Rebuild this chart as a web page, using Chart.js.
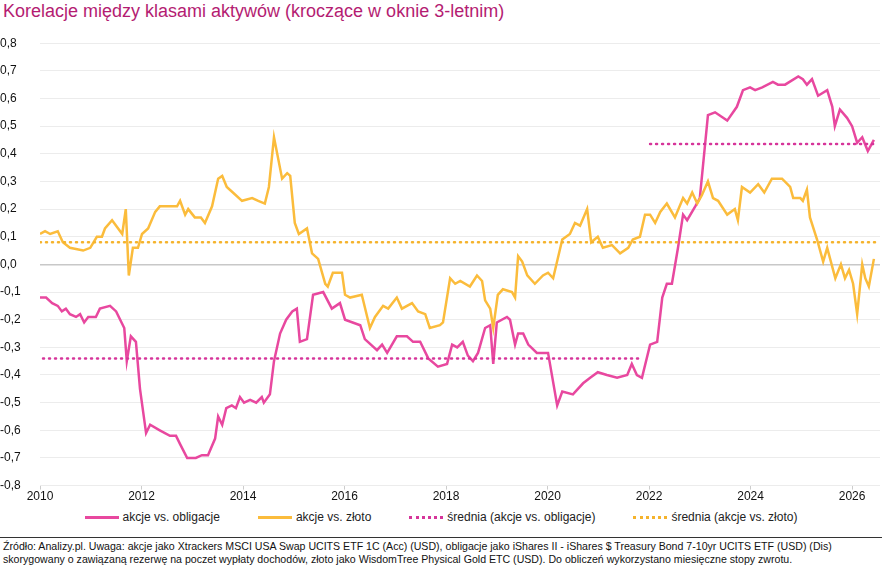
<!DOCTYPE html>
<html>
<head>
<meta charset="utf-8">
<script src="https://cdn.jsdelivr.net/npm/chart.js@4"></script>
<style>
  body { margin: 0; width: 882px; height: 568px; background: #fff; font-family: "Liberation Sans", Arial, sans-serif; position: relative; overflow: hidden; }
  #title { position: absolute; left: 3px; top: 1px; font-size: 18px; color: #b41c72; }
  #wrap { position: absolute; left: 0; top: 26px; width: 882px; height: 478px; }
  #legend { position: absolute; top: 510px; left: 0; width: 882px; display: flex; justify-content: center; gap: 38px; font-size: 12px; color: #222; }
  #legend span.item { display: flex; align-items: center; gap: 4px; }
  .sw { display: inline-block; width: 34px; height: 0; }
  #note { position: absolute; left: 0; top: 537px; width: 882px; border-top: 1px solid #333; padding: 2px 3px 0; font-size: 10.6px; line-height: 13px; color: #111; box-sizing: border-box; }
</style>
</head>
<body>
<div id="title">Korelacje między klasami aktywów (kroczące w oknie 3-letnim)</div>
<div id="wrap"><canvas id="c"></canvas></div>
<div id="legend">
  <span class="item"><span class="sw" style="border-top:3px solid #e8489f"></span>akcje vs. obligacje</span>
  <span class="item"><span class="sw" style="border-top:3px solid #fbbc3c"></span>akcje vs. złoto</span>
  <span class="item"><span class="sw" style="border-top:3px dotted #d6359a"></span>średnia (akcje vs. obligacje)</span>
  <span class="item"><span class="sw" style="border-top:3px dotted #f5b32c"></span>średnia (akcje vs. złoto)</span>
</div>
<div id="note">Źródło: Analizy.pl. Uwaga: akcje jako Xtrackers MSCI USA Swap UCITS ETF 1C (Acc) (USD), obligacje jako iShares II - iShares $ Treasury Bond 7-10yr UCITS ETF (USD) (Dis) skorygowany o zawiązaną rezerwę na poczet wypłaty dochodów, złoto jako WisdomTree Physical Gold ETC (USD). Do obliczeń wykorzystano miesięczne stopy zwrotu.</div>
<script>
// ── DATA (decimal year, correlation) ─────────────────────────────────────
const bondYears = [2010.00,2010.12,2010.24,2010.35,2010.43,2010.51,2010.59,2010.71,2010.79,2010.87,2010.95,2011.10,2011.18,2011.38,2011.50,2011.66,2011.71,2011.79,2011.89,2011.97,2012.09,2012.17,2012.36,2012.56,2012.68,2012.76,2012.90,2013.07,2013.19,2013.31,2013.45,2013.51,2013.59,2013.67,2013.78,2013.86,2013.94,2014.02,2014.14,2014.26,2014.37,2014.41,2014.53,2014.61,2014.73,2014.85,2014.97,2015.06,2015.12,2015.26,2015.38,2015.58,2015.75,2015.91,2016.01,2016.31,2016.40,2016.64,2016.74,2016.84,2017.03,2017.23,2017.35,2017.49,2017.65,2017.84,2018.02,2018.12,2018.22,2018.33,2018.43,2018.53,2018.63,2018.77,2018.87,2018.93,2019.00,2019.20,2019.26,2019.36,2019.42,2019.52,2019.62,2019.79,2020.01,2020.19,2020.29,2020.50,2020.70,2020.84,2020.99,2021.17,2021.37,2021.57,2021.66,2021.76,2021.86,2022.02,2022.16,2022.26,2022.35,2022.45,2022.57,2022.67,2022.75,2022.91,2023.00,2023.16,2023.30,2023.54,2023.73,2023.85,2023.99,2024.09,2024.23,2024.44,2024.54,2024.68,2024.94,2025.03,2025.11,2025.21,2025.33,2025.51,2025.61,2025.66,2025.76,2025.90,2026.00,2026.10,2026.20,2026.31,2026.43];
const bondCorr  = [-0.12,-0.12,-0.14,-0.15,-0.17,-0.16,-0.18,-0.19,-0.18,-0.21,-0.19,-0.19,-0.16,-0.15,-0.17,-0.23,-0.35,-0.26,-0.28,-0.45,-0.61,-0.58,-0.60,-0.62,-0.62,-0.65,-0.70,-0.70,-0.69,-0.69,-0.63,-0.55,-0.58,-0.52,-0.51,-0.52,-0.48,-0.50,-0.49,-0.50,-0.48,-0.50,-0.47,-0.35,-0.25,-0.20,-0.17,-0.16,-0.28,-0.27,-0.11,-0.10,-0.16,-0.14,-0.20,-0.22,-0.27,-0.31,-0.29,-0.32,-0.26,-0.26,-0.28,-0.28,-0.34,-0.37,-0.36,-0.29,-0.30,-0.28,-0.33,-0.35,-0.32,-0.23,-0.22,-0.36,-0.21,-0.19,-0.20,-0.29,-0.25,-0.25,-0.29,-0.32,-0.32,-0.51,-0.46,-0.47,-0.43,-0.41,-0.39,-0.40,-0.41,-0.40,-0.36,-0.40,-0.41,-0.29,-0.28,-0.12,-0.07,-0.07,0.06,0.18,0.16,0.21,0.24,0.54,0.55,0.52,0.57,0.63,0.64,0.63,0.64,0.66,0.65,0.65,0.68,0.67,0.65,0.67,0.61,0.63,0.57,0.50,0.56,0.53,0.50,0.44,0.46,0.41,0.45];

const goldYears = [2010.00,2010.10,2010.20,2010.35,2010.45,2010.59,2010.85,2010.99,2011.12,2011.22,2011.28,2011.42,2011.62,2011.69,2011.75,2011.83,2011.93,2012.01,2012.13,2012.27,2012.36,2012.50,2012.60,2012.70,2012.76,2012.86,2012.92,2013.05,2013.17,2013.25,2013.39,2013.51,2013.59,2013.68,2013.80,2013.98,2014.18,2014.30,2014.43,2014.51,2014.61,2014.77,2014.87,2014.93,2015.02,2015.10,2015.26,2015.36,2015.48,2015.62,2015.67,2015.77,2015.87,2015.95,2016.01,2016.11,2016.34,2016.50,2016.60,2016.76,2016.86,2017.03,2017.13,2017.33,2017.45,2017.59,2017.68,2017.88,2017.94,2018.08,2018.18,2018.28,2018.47,2018.61,2018.71,2018.77,2018.87,2018.93,2019.02,2019.12,2019.30,2019.36,2019.42,2019.50,2019.60,2019.75,2019.91,2020.01,2020.11,2020.29,2020.44,2020.54,2020.64,2020.78,2020.86,2020.99,2021.09,2021.27,2021.43,2021.59,2021.68,2021.82,2021.92,2022.02,2022.12,2022.22,2022.35,2022.51,2022.67,2022.75,2022.85,2022.95,2023.04,2023.16,2023.26,2023.36,2023.54,2023.69,2023.75,2023.83,2023.99,2024.15,2024.27,2024.42,2024.52,2024.62,2024.78,2024.84,2024.98,2025.03,2025.11,2025.17,2025.31,2025.43,2025.51,2025.67,2025.78,2025.86,2025.94,2026.02,2026.10,2026.20,2026.26,2026.33,2026.43];
const goldCorr  = [0.11,0.12,0.11,0.12,0.08,0.06,0.05,0.06,0.10,0.10,0.13,0.16,0.11,0.20,-0.04,0.06,0.06,0.11,0.13,0.19,0.21,0.21,0.21,0.21,0.23,0.18,0.20,0.17,0.17,0.15,0.21,0.31,0.32,0.28,0.26,0.23,0.24,0.23,0.22,0.28,0.46,0.31,0.33,0.32,0.15,0.11,0.13,0.04,0.02,-0.07,-0.08,-0.03,-0.03,-0.03,-0.11,-0.12,-0.11,-0.23,-0.19,-0.15,-0.16,-0.12,-0.16,-0.14,-0.17,-0.18,-0.23,-0.22,-0.21,-0.05,-0.07,-0.06,-0.08,-0.04,-0.06,-0.13,-0.16,-0.23,-0.11,-0.09,-0.10,-0.12,0.03,0.01,-0.04,-0.07,-0.04,-0.03,-0.05,0.09,0.11,0.15,0.14,0.20,0.08,0.10,0.06,0.07,0.04,0.06,0.09,0.10,0.18,0.18,0.15,0.19,0.22,0.17,0.24,0.22,0.26,0.22,0.25,0.30,0.24,0.23,0.18,0.20,0.16,0.28,0.26,0.29,0.26,0.31,0.31,0.31,0.28,0.24,0.24,0.23,0.27,0.17,0.09,0.01,0.06,-0.05,0.00,-0.05,-0.02,-0.07,-0.18,0.00,-0.05,-0.08,0.02];

// averages: [from, to, value]
const bondAvgEarly = [2010.06, 2021.86, -0.34];
const bondAvgLate  = [2022.02, 2026.43, 0.435];
const goldAvg      = [2010.00, 2026.55, 0.08];

const xTicks = [2010, 2012, 2014, 2016, 2018, 2020, 2022, 2024, 2026];

const PINK = '#e8489f', ORANGE = '#fbbc3c';

const pts = (xs, ys) => xs.map((x, i) => ({ x, y: ys[i] }));
const seg = a => [{ x: a[0], y: a[2] }, { x: a[1], y: a[2] }];
const avgStyle = c => ({ borderColor: c, borderWidth: 2.5, borderDash: [1, 5], borderCapStyle: 'round', pointRadius: 0, fill: false });

new Chart(document.getElementById('c'), {
  type: 'line',
  data: {
    datasets: [
      { data: seg(goldAvg), ...avgStyle('#f5b32c') },
      { data: seg(bondAvgEarly), ...avgStyle('#d6359a') },
      { data: seg(bondAvgLate), ...avgStyle('#d6359a') },
      { data: pts(goldYears, goldCorr), borderColor: ORANGE, borderWidth: 2.5, pointRadius: 0, tension: 0 },
      { data: pts(bondYears, bondCorr), borderColor: PINK, borderWidth: 2.5, pointRadius: 0, tension: 0 },
    ]
  },
  options: {
    responsive: true,
    maintainAspectRatio: false,
    animation: false,
    layout: { padding: { top: 6, right: 2, left: 0, bottom: 0 } },
    plugins: { legend: { display: false }, tooltip: { enabled: false } },
    scales: {
      x: {
        type: 'linear', min: 2010, max: 2026.55,
        afterBuildTicks: ax => { ax.ticks = xTicks.map(v => ({ value: v })); },
        grid: { display: true, drawOnChartArea: false, drawTicks: true, tickLength: 4, color: '#ccc' },
        border: { display: false },
        ticks: { color: '#111', font: { size: 12, family: 'Liberation Sans' }, padding: 0, maxRotation: 0, callback: v => String(v) }
      },
      y: {
        min: -0.8, max: 0.8,
        afterFit: ax => { ax.width = 40; },
        grid: { color: ctx => ctx.tick && Math.abs(ctx.tick.value) < 1e-9 ? '#c8c8c8' : '#ececec', drawTicks: false, lineWidth: ctx => ctx.tick && Math.abs(ctx.tick.value) < 1e-9 ? 1.5 : 1 },
        border: { display: false },
        ticks: {
          stepSize: 0.1, color: '#111', font: { size: 12, family: 'Liberation Sans' },
          crossAlign: 'far', padding: 10,
          callback: v => (Math.round(v * 10) / 10).toFixed(1).replace('.', ',')
        }
      }
    }
  }
});
</script>
</body>
</html>
